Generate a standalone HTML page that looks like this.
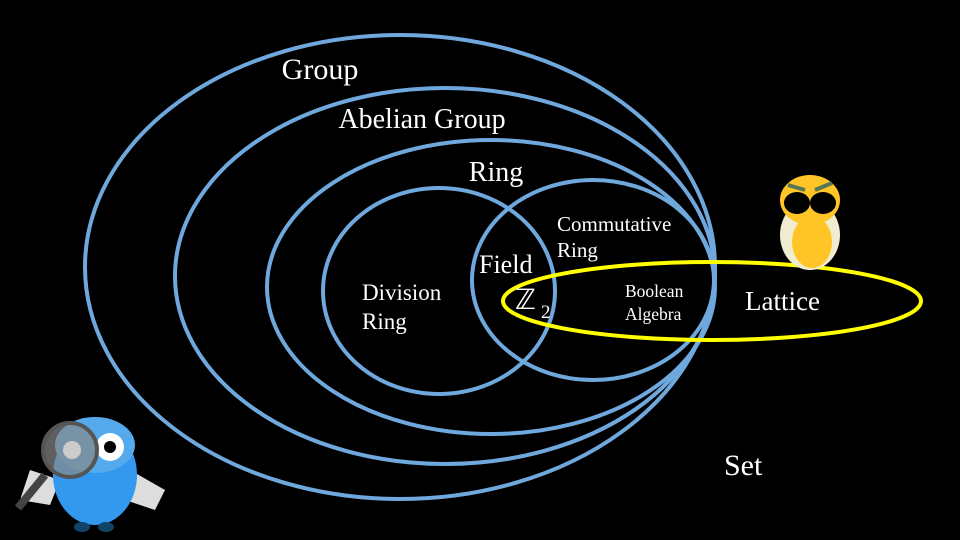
<!DOCTYPE html>
<html><head><meta charset="utf-8"><style>
html,body{margin:0;padding:0;background:#000;width:960px;height:540px;overflow:hidden}
svg text{font-family:"Liberation Serif",serif;fill:#fff}
</style></head><body>
<svg width="960" height="540" viewBox="0 0 960 540" xmlns="http://www.w3.org/2000/svg">
<rect width="960" height="540" fill="#000"/>
<g fill="none" stroke="#6fa8dc" stroke-width="4">
<ellipse cx="400" cy="267" rx="315" ry="232"/>
<ellipse cx="445" cy="276" rx="270" ry="188"/>
<ellipse cx="491" cy="287" rx="224" ry="147"/>
<ellipse cx="593" cy="280" rx="121" ry="100"/>
<ellipse cx="439" cy="291" rx="116" ry="103"/>
</g>
<ellipse cx="712" cy="301" rx="209" ry="39" fill="none" stroke="#ffff00" stroke-width="4"/>
<text x="320" y="79" font-size="30" text-anchor="middle">Group</text>
<text x="422" y="128" font-size="28" text-anchor="middle">Abelian Group</text>
<text x="496" y="181" font-size="28" text-anchor="middle">Ring</text>
<text x="557" y="231" font-size="21">Commutative</text>
<text x="557" y="257" font-size="21">Ring</text>
<text x="479" y="273" font-size="26">Field</text>
<text x="362" y="300" font-size="23">Division</text>
<text x="362" y="329" font-size="23">Ring</text>
<text x="515" y="309" font-size="28">ℤ</text>
<text x="541" y="318" font-size="19">2</text>
<text x="625" y="297" font-size="17.5">Boolean</text>
<text x="625" y="320" font-size="17.5">Algebra</text>
<text x="745" y="310" font-size="27">Lattice</text>
<text x="724" y="475" font-size="30">Set</text>
<!-- blue owl -->
<g>
<path d="M30 470 L60 480 L50 505 L20 500 Z" fill="#ddd"/>
<path d="M130 470 L165 490 L155 510 L125 500 Z" fill="#ddd"/>
<ellipse cx="95" cy="475" rx="42" ry="50" fill="#3399ee"/>
<ellipse cx="95" cy="445" rx="40" ry="28" fill="#55aaee"/>
<circle cx="110" cy="447" r="14" fill="#fff"/><circle cx="110" cy="447" r="6" fill="#000"/>
<circle cx="70" cy="450" r="27" fill="#888" fill-opacity="0.7" stroke="#555" stroke-width="4"/>
<circle cx="72" cy="450" r="9" fill="#ccc"/>
<path d="M45 475 L18 508" stroke="#444" stroke-width="8"/>
<ellipse cx="82" cy="527" rx="8" ry="5" fill="#146"/><ellipse cx="106" cy="527" rx="8" ry="5" fill="#146"/>
</g>
<!-- yellow owl -->
<g>
<ellipse cx="810" cy="235" rx="30" ry="35" fill="#f0ecd0"/>
<ellipse cx="812" cy="242" rx="20" ry="26" fill="#ffc526"/>
<ellipse cx="810" cy="200" rx="30" ry="25" fill="#ffc526"/>
<ellipse cx="797" cy="203" rx="13" ry="11" fill="#000"/>
<ellipse cx="823" cy="203" rx="13" ry="11" fill="#000"/>
<path d="M788 185 L805 190 M815 190 L832 183" stroke="#575" stroke-width="4"/>
</g>
</svg>
</body></html>
